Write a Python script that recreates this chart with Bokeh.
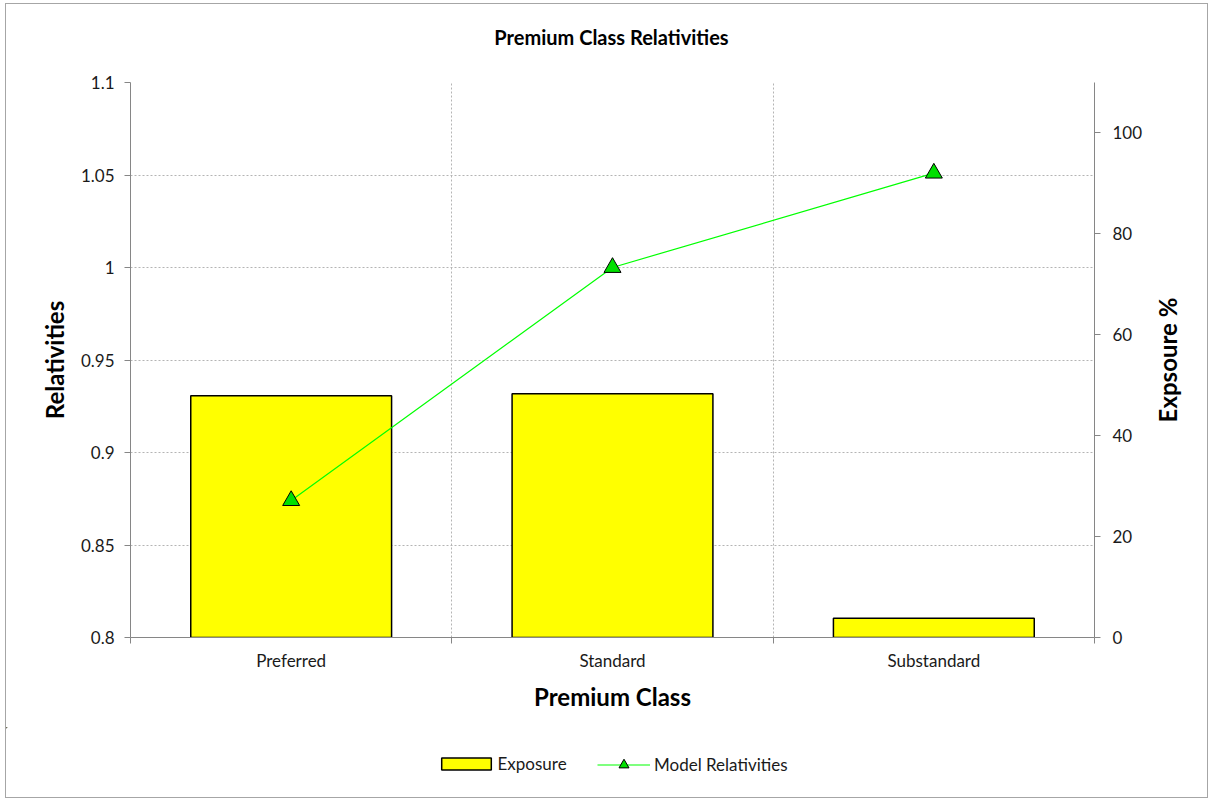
from bokeh.plotting import figure
from bokeh.layouts import row, column
from bokeh.models import (Range1d, LinearAxis, FixedTicker, Legend, LegendItem, Label)
from bokeh.embed import file_html
from bokeh.resources import INLINE

# ---- data ----
categories = ["Preferred", "Standard", "Substandard"]
exposure_pct = [47.9, 48.3, 3.8]          # right axis, bars
model_relativities = [0.874, 1.0, 1.051]  # left axis, line

rel_ticks = [0.8, 0.85, 0.9, 0.95, 1.0, 1.05, 1.1]
rel_tick_labels = ["0.8", "0.85", "0.9", "0.95", "1", "1.05", "1.1"]
exp_ticks = [0, 20, 40, 60, 80, 100]

FONT = "Lato"
TXT = "#1a1a1a"
AXIS_COL = "#868686"
GRID_COL = "#b4b4b4"
BAR_STYLE = dict(fill_color="#FFFF00", line_color="black", line_width=1.5)
LINE_STYLE = dict(line_color="#00FF00", line_width=1.2)
MARK_STYLE = dict(marker="triangle", fill_color="#00E000", line_color="black", line_width=1)

n = len(categories)
centers = [i + 0.5 for i in range(n)]
bounds = [float(i) for i in range(n + 1)]

MAIN_W, SIDE_W, TOTAL_W = 1139, 62, 1201
TITLE_H, MAIN_H, LEG_H = 60, 663, 70
TOP, BOTTOM = 18, 90


def bare(fig):
    fig.outline_line_color = None
    fig.axis.visible = False
    fig.grid.visible = False


# ---------------- title strip ----------------
pt = figure(width=TOTAL_W, height=TITLE_H, x_range=Range1d(0, TOTAL_W),
            y_range=Range1d(0, TITLE_H), output_backend="svg",
            toolbar_location=None, min_border=0)
bare(pt)
pt.add_layout(Label(x=605, y=TITLE_H - 32, text="Premium Class Relativities",
                    text_align="center", text_baseline="middle",
                    text_font=FONT, text_font_size="20px",
                    text_font_style="bold", text_color="black"))

# ---------------- main chart ----------------
p = figure(width=MAIN_W, height=MAIN_H,
           x_range=Range1d(0, n), y_range=Range1d(rel_ticks[0], rel_ticks[-1]),
           output_backend="svg", toolbar_location=None,
           min_border_left=124, min_border_right=50,
           min_border_top=TOP, min_border_bottom=BOTTOM)
p.outline_line_color = None
p.background_fill_color = "white"
p.border_fill_color = "white"

p.extra_y_ranges = {"exp": Range1d(0, 110)}

bars = p.vbar(x=centers, top=exposure_pct, width=0.625, bottom=0,
              y_range_name="exp", **BAR_STYLE)
p.line(centers, model_relativities, **LINE_STYLE)
p.scatter(centers, model_relativities, size=17, **MARK_STYLE)

ya = p.yaxis[0]
ya.ticker = FixedTicker(ticks=rel_ticks)
ya.major_label_overrides = {t: s for t, s in zip(rel_ticks, rel_tick_labels)}
ya.axis_label = "Relativities"
ya.axis_label_standoff = 9

ra = LinearAxis(y_range_name="exp", ticker=FixedTicker(ticks=exp_ticks))
p.add_layout(ra, "right")

xa = p.xaxis[0]
xa.ticker = FixedTicker(ticks=centers, minor_ticks=bounds)
xa.major_label_overrides = {c: s for c, s in zip(centers, categories)}
xa.major_tick_out = 0
xa.major_tick_in = 0
xa.minor_tick_out = 6
xa.minor_tick_in = 0
xa.minor_tick_line_color = AXIS_COL
xa.axis_label = "Premium Class"
xa.axis_label_standoff = 8
xa.major_label_standoff = 6

for ax in (ya, ra):
    ax.major_tick_out = 6
    ax.major_tick_in = 0
    ax.minor_tick_out = 0
    ax.minor_tick_in = 0
ya.major_label_standoff = 10
ra.major_label_standoff = 12

for ax in (ya, ra, xa):
    ax.axis_line_color = AXIS_COL
    ax.major_tick_line_color = AXIS_COL
    ax.major_label_text_font = FONT
    ax.major_label_text_font_size = "17px"
    ax.major_label_text_color = TXT
    ax.axis_label_text_font = FONT
    ax.axis_label_text_font_size = "24px"
    ax.axis_label_text_font_style = "bold"
    ax.axis_label_text_color = "black"

p.ygrid.ticker = FixedTicker(ticks=rel_ticks)
p.xgrid.ticker = FixedTicker(ticks=bounds[1:-1])
for g in (p.xgrid, p.ygrid):
    g.grid_line_color = GRID_COL
    g.grid_line_dash = "2 2"
    g.grid_line_width = 1

# ---------------- right-hand axis title strip ----------------
ps = figure(width=SIDE_W, height=MAIN_H, x_range=Range1d(0, 1),
            y_range=Range1d(0, 110), output_backend="svg", toolbar_location=None,
            min_border_left=45, min_border_right=0,
            min_border_top=TOP, min_border_bottom=BOTTOM)
ps.outline_line_color = None
ps.grid.visible = False
ps.xaxis.visible = False
sa = ps.yaxis[0]
sa.ticker = FixedTicker(ticks=[])
sa.axis_line_color = None
sa.major_tick_out = 0
sa.major_tick_in = 0
sa.minor_tick_out = 0
sa.minor_tick_in = 0
sa.major_label_text_font_size = "0px"
sa.axis_label = "Expsoure %"
sa.axis_label_standoff = 9
sa.axis_label_text_font = FONT
sa.axis_label_text_font_size = "24px"
sa.axis_label_text_font_style = "bold"
sa.axis_label_text_color = "black"

# ---------------- legend strip ----------------
# key glyphs share the chart's data and styling; the strip's ranges keep them out of view
pl = figure(width=TOTAL_W, height=LEG_H, x_range=Range1d(n + 50, n + 51),
            y_range=Range1d(-3, -2), output_backend="svg", toolbar_location=None,
            min_border=0)
bare(pl)
kb = pl.vbar(x=centers, top=exposure_pct, width=0.625, bottom=0, **BAR_STYLE)
kl = pl.line(centers, model_relativities, **LINE_STYLE)
km = pl.scatter(centers, model_relativities, size=17, **MARK_STYLE)

leg1 = Legend(items=[LegendItem(label="Exposure", renderers=[kb])],
              location=(428.5, 23.5), glyph_width=62, glyph_height=15,
              label_height=15, label_standoff=1)
leg2 = Legend(items=[LegendItem(label="Model Relativities", renderers=[kl, km])],
              location=(591, 20.5), glyph_width=53, glyph_height=25,
              label_height=25, label_standoff=4)
for lg in (leg1, leg2):
    lg.orientation = "horizontal"
    lg.padding = 0
    lg.margin = 0
    lg.spacing = 0
    lg.border_line_color = None
    lg.background_fill_alpha = 0
    lg.label_text_font = FONT
    lg.label_text_font_size = "17px"
    lg.label_text_color = TXT
    pl.add_layout(lg)

layout = column(pt, row(p, ps, spacing=0), pl, spacing=0,
                styles={"margin": "3px 0 0 5px", "border": "1px solid #a6a6a6"})

open("out.html", "w").write(file_html(layout, INLINE))
